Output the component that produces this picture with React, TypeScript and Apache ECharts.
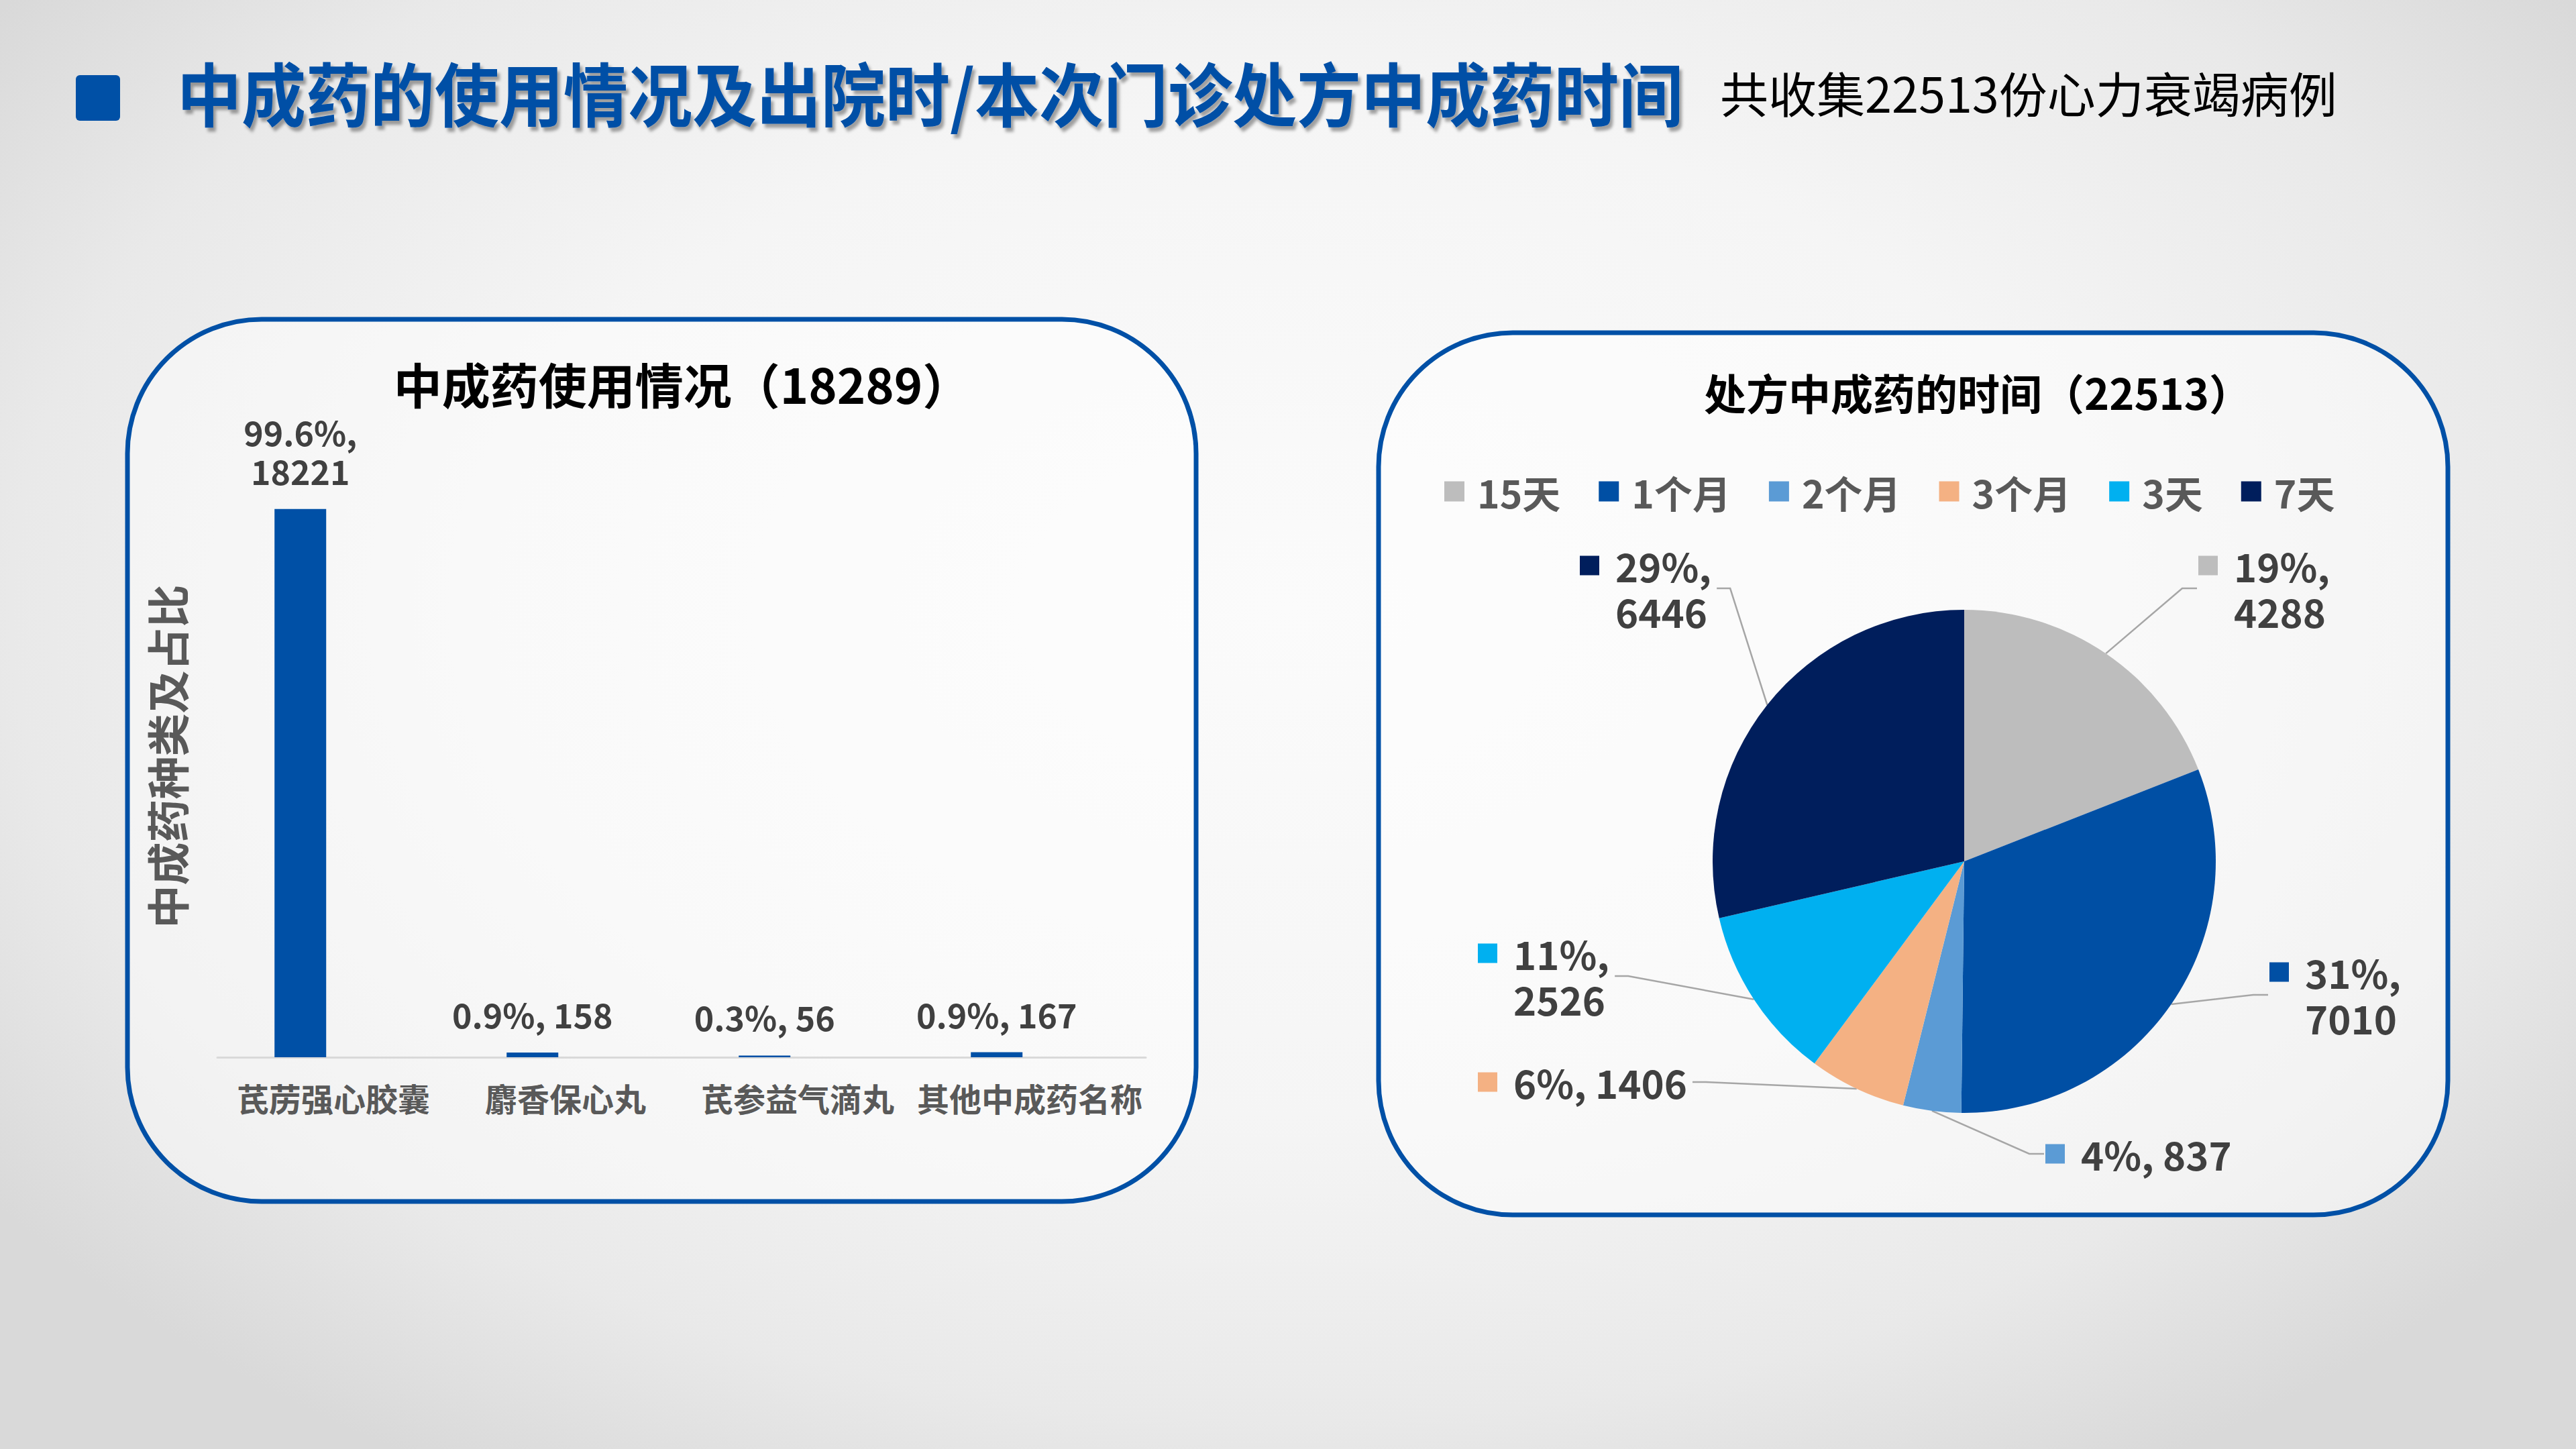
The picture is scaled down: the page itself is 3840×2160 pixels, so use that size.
import React, { useEffect, useRef } from 'react'
import * as echarts from 'echarts'

const FONT = '"Noto Sans CJK SC", "Microsoft YaHei", sans-serif'

// left chart: 中成药使用情况
const barCategories = ['芪苈强心胶囊', '麝香保心丸', '芪参益气滴丸', '其他中成药名称']
const barValues = [18221, 158, 56, 167]
const barTotal = 18289
const barWrap = [true, false, false, false]
const barMax = 20000

// right chart: 处方中成药的时间
const pieNames = ['15天', '1个月', '2个月', '3个月', '3天', '7天']
const pieValues = [4288, 7010, 837, 1406, 2526, 6446]
const pieTotal = 22513
const pieColors = ['#BDBDBD', '#004FA4', '#5B9BD5', '#F4B183', '#00B0F0', '#001E5C']
const pieWrap = [true, true, false, false, true, true]

// where each pie label sits (left edge, vertical centre) and on which side of the pie
const pieLabelSpots = [
  { x: 3277, y: 877, side: 'r' },
  { x: 3383, y: 1483, side: 'r' },
  { x: 3049, y: 1720, side: 'r' },
  { x: 2203, y: 1613, side: 'l' },
  { x: 2203, y: 1455, side: 'l' },
  { x: 2355, y: 877, side: 'l' },
]

const BLUE = '#0050A6'

const App = () => {
  const chartRef = useRef<HTMLDivElement>(null)

  useEffect(() => {
    document.body.style.margin = '0'
    document.body.style.overflow = 'hidden'
    if (!chartRef.current) return
    const chart = echarts.init(chartRef.current, null, { renderer: 'svg' })

    const rich: any = {
      t: { fontSize: 58, fontWeight: 'bold', color: '#404040', fontFamily: FONT, lineHeight: 68 },
      g: { width: 24 },
      s: { width: 53 },
    }
    pieColors.forEach((c, i) => {
      rich['m' + i] = { width: 29, height: 29, backgroundColor: c }
    })

    const option: any = {
      animation: false,
      textStyle: { fontFamily: FONT },
      graphic: [
        {
          type: 'rect', z: 0,
          shape: { x: 190, y: 476, width: 1593, height: 1315, r: 200 },
          style: { fill: 'rgba(255,255,255,0.45)', stroke: BLUE, lineWidth: 7 },
        },
        {
          type: 'rect', z: 0,
          shape: { x: 2055, y: 496, width: 1594, height: 1315, r: 200 },
          style: { fill: 'rgba(255,255,255,0.45)', stroke: BLUE, lineWidth: 7 },
        },
        {
          type: 'rect', z: 10,
          shape: { x: 113, y: 112, width: 66, height: 68, r: 6 },
          style: { fill: BLUE },
        },
        {
          type: 'text', z: 10, x: 264, y: 136, scaleY: 1.08,
          style: {
            text: '中成药的使用情况及出院时/本次门诊处方中成药时间',
            font: `bold 96px ${FONT}`,
            fill: BLUE,
            verticalAlign: 'middle',
            textShadowColor: 'rgba(0,0,0,0.35)',
            textShadowOffsetX: 4,
            textShadowOffsetY: 6,
            textShadowBlur: 4,
          },
        },
        {
          type: 'text', z: 10, x: 2564, y: 136,
          style: {
            text: `共收集${pieTotal}份心力衰竭病例`,
            font: `72px ${FONT}`,
            fill: '#000000',
            verticalAlign: 'middle',
          },
        },
        {
          type: 'text', z: 10, x: 1017, y: 570,
          style: {
            text: `中成药使用情况（${barTotal}）`,
            font: `bold 72px ${FONT}`,
            fill: '#000000',
            align: 'center',
            verticalAlign: 'middle',
          },
        },
        {
          type: 'text', z: 10, x: 2948, y: 583,
          style: {
            text: `处方中成药的时间（${pieTotal}）`,
            font: `bold 63px ${FONT}`,
            fill: '#000000',
            align: 'center',
            verticalAlign: 'middle',
          },
        },
      ],
      grid: { left: 324, width: 1384, top: 679, height: 897 },
      xAxis: {
        type: 'category',
        data: barCategories,
        axisLine: { lineStyle: { color: '#D9D9D9', width: 3 } },
        axisTick: { show: false },
        axisLabel: {
          interval: 0,
          margin: 36,
          fontSize: 48,
          fontWeight: 'bold',
          color: '#595959',
          fontFamily: FONT,
        },
      },
      yAxis: {
        type: 'value',
        min: 0,
        max: barMax,
        name: '中成药种类及占比',
        nameLocation: 'middle',
        nameRotate: 90,
        nameGap: 45,
        nameTextStyle: { fontSize: 64, fontWeight: 'bold', color: '#595959', fontFamily: FONT },
        axisLine: { show: false },
        axisTick: { show: false },
        axisLabel: { show: false },
        splitLine: { show: false },
      },
      legend: {
        data: pieNames,
        left: 2148,
        top: 699,
        itemWidth: 30,
        itemHeight: 30,
        itemGap: 57,
        icon: 'rect',
        selectedMode: false,
        textStyle: {
          fontSize: 57,
          fontWeight: 'bold',
          color: '#595959',
          fontFamily: FONT,
          padding: [0, 0, 0, 14],
        },
      },
      series: [
        {
          type: 'bar',
          name: '中成药',
          data: barValues,
          barWidth: 77,
          barGap: '28%',
          itemStyle: { color: BLUE },
          label: {
            show: true,
            position: 'top',
            distance: 29,
            fontSize: 50,
            fontWeight: 'bold',
            color: '#404040',
            lineHeight: 58,
            fontFamily: FONT,
            formatter: (p: any) => {
              const pct = ((p.value / barTotal) * 100).toFixed(1)
              return barWrap[p.dataIndex] ? `${pct}%,\n${p.value}` : `${pct}%, ${p.value}`
            },
          },
        },
        {
          type: 'bar',
          name: 'placeholder',
          data: [],
          barWidth: 77,
        },
        {
          type: 'pie',
          center: [2928, 1284],
          radius: 375,
          startAngle: 90,
          clockwise: true,
          percentPrecision: 0,
          data: pieNames.map((n, i) => ({ name: n, value: pieValues[i], itemStyle: { color: pieColors[i] } })),
          label: {
            show: true,
            position: 'outside',
            formatter: (p: any) => {
              const i = p.dataIndex
              return pieWrap[i]
                ? `{m${i}|}{g|}{t|${p.percent}%,}\n{s|}{t|${p.value}}`
                : `{m${i}|}{g|}{t|${p.percent}%, ${p.value}}`
            },
            rich,
          },
          labelLine: { show: true, lineStyle: { color: '#A6A6A6', width: 2.5 } },
          labelLayout: (params: any) => {
            const spot = pieLabelSpots[params.dataIndex]
            const w = params.labelRect.width
            const start = params.labelLinePoints ? params.labelLinePoints[0] : [spot.x, spot.y]
            const endX = spot.side === 'r' ? spot.x - 2 : spot.x + w + 8
            const elbowX = spot.side === 'r' ? endX - 22 : endX + 20
            return {
              x: spot.x,
              y: spot.y,
              align: 'left',
              verticalAlign: 'middle',
              labelLinePoints: [start, [elbowX, spot.y], [endX, spot.y]],
            }
          },
          emphasis: { disabled: true },
        },
      ],
    }

    chart.setOption(option)
    return () => {
      chart.dispose()
    }
  }, [])

  return (
    <div
      ref={chartRef}
      style={{
        width: '3840px',
        height: '2160px',
        background: 'radial-gradient(ellipse 62% 70% at 50% 42%, #fbfbfb 0%, #f5f5f5 50%, #e9e9e9 80%, #d9d9d9 100%)',
      }}
    />
  )
}

export default App
